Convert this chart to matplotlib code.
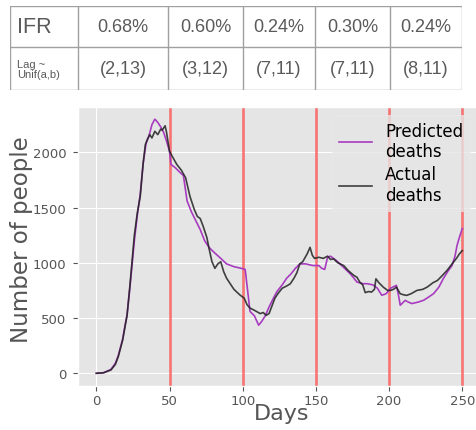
import matplotlib.pyplot as plt

# table contents
ifr = ['0.68%', '0.60%', '0.24%', '0.30%', '0.24%']
lag = ['(2,13)', '(3,12)', '(7,11)', '(7,11)', '(8,11)']

# actual deaths (day, value)
act_day = [0, 5, 10, 13, 15, 18, 20, 21, 23, 24, 26, 28, 30, 32, 33.5, 35, 36.5, 38, 40, 42,
           44, 45, 47, 48, 50, 52, 55, 58, 61, 64, 67, 69, 71, 73, 75.5, 77, 79, 81, 83, 85,
           87, 89, 92, 94, 98, 101, 103, 105, 108, 112, 114, 116, 118, 120, 122, 124, 127, 130,
           132.5, 135, 137, 139, 141, 144, 146, 147.5, 149, 152, 155, 158, 160, 162, 165, 169,
           172, 176, 178, 180, 182, 183.7, 186, 188, 190, 191, 193, 196, 199, 201, 203, 205,
           207.6, 210, 212, 215, 219, 223, 226, 230, 233, 236, 239.5, 243, 246, 248, 250]
act_val = [0, 5, 30, 80, 150, 300, 450, 520, 800, 950, 1250, 1450, 1600, 1900, 2070, 2120, 2160,
           2130, 2190, 2160, 2210, 2200, 2240, 2180, 2010, 1960, 1890, 1840, 1770, 1600, 1480,
           1420, 1400, 1330, 1230, 1130, 1010, 950, 990, 1010, 920, 860, 800, 760, 710, 680, 620,
           590, 570, 540, 550, 525, 540, 610, 680, 720, 770, 790, 810, 860, 910, 990, 1010, 1080,
           1140, 1070, 1040, 1050, 1040, 1060, 1030, 1036, 1000, 975, 930, 885, 870, 825, 800,
           730, 740, 735, 760, 855, 820, 780, 750, 750, 760, 780, 720, 710, 705, 720, 750, 760,
           780, 820, 840, 880, 930, 990, 1040, 1080, 1110]

# predicted deaths
pred_day = [0, 5, 10, 13, 15, 18, 20, 21, 23, 24, 26, 28, 30, 32, 34, 36, 38, 40, 42, 44, 46,
            48, 50, 51, 54, 57, 59.5, 62, 65, 68, 71, 74, 77, 80, 85, 89, 94, 99, 101.7, 105,
            108, 110.9, 113, 115.4, 118, 121, 123.4, 127, 130, 133, 136, 139, 143, 148, 152,
            154, 156, 158, 160, 164, 168, 173.5, 176, 178, 182, 185, 189, 192, 195, 198, 201,
            205, 206.5, 207.6, 211, 213, 215.6, 220, 223.6, 227, 230.4, 234, 237, 240, 243,
            245, 246.4, 248, 250]
pred_val = [0, 5, 35, 90, 160, 310, 460, 530, 780, 920, 1200, 1430, 1620, 1900, 2080, 2150,
            2250, 2300, 2270, 2230, 2180, 2100, 2010, 1890, 1860, 1820, 1790, 1560, 1460, 1380,
            1300, 1200, 1140, 1100, 1040, 990, 965, 950, 940, 560, 520, 435, 470, 520, 600, 680,
            740, 800, 860, 900, 950, 990, 990, 975, 975, 950, 940, 1050, 1060, 1020, 970, 900,
            860, 826, 811, 811, 800, 770, 706, 720, 770, 796, 700, 616, 660, 645, 631, 645, 661,
            690, 721, 780, 856, 920, 976, 1060, 1156, 1230, 1310]

breaks = [50, 100, 150, 200, 250]

plt.style.use('ggplot')
fig = plt.figure(figsize=(4.76, 4.31), dpi=100)

# ---- table on top ----
W, H = 476, 431
tab = fig.add_axes([10 / W, 1 - 91 / H, 452 / W, 84 / H])
tab.set_xlim(10, 462)
tab.set_ylim(91, 7)
tab.axis('off')
cols = [10, 78, 168, 243, 315, 390, 462]
gcol = '#a0a0a0'
for x in cols:
    tab.plot([x, x], [7, 91], color=gcol, lw=1)
for y in [7, 48, 91]:
    tab.plot([10, 462], [y, y], color=gcol, lw=1)
tcol = '#5a5a5a'
tab.text(17, 28, 'IFR', fontsize=15.5, color=tcol, va='center', ha='left', family='Liberation Sans')
tab.text(17, 70, 'Lag ~\nUnif(a,b)', fontsize=8, color=tcol, va='center', ha='left',
         family='Liberation Sans', linespacing=1.1)
for i in range(5):
    cx = (cols[i + 1] + cols[i + 2]) / 2
    tab.text(cx, 28, ifr[i], fontsize=13, color=tcol, va='center', ha='center', family='Liberation Sans')
    tab.text(cx, 70, lag[i], fontsize=13, color=tcol, va='center', ha='center', family='Liberation Sans')

# ---- main plot ----
ax = fig.add_axes([78 / W, 1 - 387 / H, 402.6 / W, 279 / H])
ax.set_facecolor('#E5E5E5')
for b in breaks:
    ax.axvline(b, color='red', alpha=0.55, lw=1.8)
ax.plot(pred_day, pred_val, color='#a83cc0', lw=1.2, label='Predicted\ndeaths')
ax.plot(act_day, act_val, color='#222222', lw=1.2, alpha=0.85, label='Actual\ndeaths')
ax.set_xlim(-12.5, 262.5)
ax.set_ylim(-115, 2410)
ax.set_xticks([0, 50, 100, 150, 200, 250])
ax.set_yticks([0, 500, 1000, 1500, 2000])
ax.tick_params(labelsize=9.5, colors='#555555')
ax.tick_params(axis='x', pad=2)
ax.tick_params(axis='y', pad=5)
ax.set_xlabel('Days', fontsize=16, color='#555555')
ax.set_ylabel('Number of people', fontsize=16.5, color='#555555')
ax.xaxis.set_label_coords(0.505, -0.062)
ax.yaxis.set_label_coords(-0.112, 0.53)
ax.legend(loc='upper right', bbox_to_anchor=(470 / W, 1 - 116 / H),
          bbox_transform=fig.transFigure, fontsize=12, facecolor='#E5E5E5',
          edgecolor='#ececec', framealpha=0.8, labelspacing=0.3, borderaxespad=0)

plt.savefig('out.png', dpi=100)
